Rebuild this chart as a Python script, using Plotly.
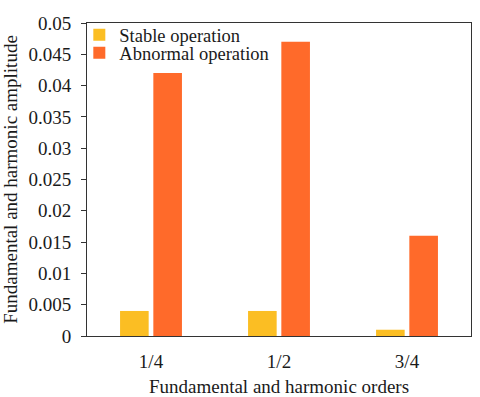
import plotly.graph_objects as go

categories = ["1/4", "1/2", "3/4"]
stable = [0.004, 0.004, 0.001]
abnormal = [0.042, 0.047, 0.016]
yticks = [0, 0.005, 0.01, 0.015, 0.02, 0.025, 0.03, 0.035, 0.04, 0.045, 0.05]
ytick_text = ["0", "0.005", "0.01", "0.015", "0.02", "0.025", "0.03", "0.035", "0.04", "0.045", "0.05"]

font = "Liberation Serif, Times New Roman, serif"
FS = 19
LFS = 18.5

fig = go.Figure()
fig.add_trace(go.Bar(x=categories, y=stable, name="Stable operation",
                     marker=dict(color="#FBBE23", line=dict(width=0)), legend="legend"))
fig.add_trace(go.Bar(x=categories, y=abnormal, name="Abnormal operation",
                     marker=dict(color="#FF6A2A", line=dict(width=0)), legend="legend2"))

leg_common = dict(xanchor="left", yanchor="top", bgcolor="rgba(0,0,0,0)",
                  font=dict(size=LFS, family=font, color="#1a1a1a"), borderwidth=0)

fig.update_layout(
    width=480, height=397,
    margin=dict(l=87, r=9, t=23, b=61, autoexpand=False),
    paper_bgcolor="white", plot_bgcolor="white",
    barmode="group", bargap=0.48, bargroupgap=0.14,
    font=dict(family=font, size=FS, color="#1a1a1a"),
    showlegend=True,
    legend=dict(x=-0.02, y=1.022, **leg_common),
    legend2=dict(x=-0.02, y=0.964, **leg_common),
    xaxis=dict(showline=True, linecolor="#333", linewidth=1, mirror=True,
               ticks="outside", ticklen=8, tickcolor="rgba(0,0,0,0)",
               showgrid=False, automargin=False,
               title=dict(text="Fundamental and harmonic orders", font=dict(size=FS), standoff=9),
               tickfont=dict(size=FS)),
    yaxis=dict(range=[0, 0.05], tickvals=yticks, ticktext=ytick_text,
               showline=True, linecolor="#333", linewidth=1, mirror=True,
               ticks="outside", ticklen=5, tickcolor="#333", showgrid=False, zeroline=False,
               automargin=False, ticklabelstandoff=6,
               title=dict(text="Fundamental and harmonic amplitude", font=dict(size=FS), standoff=6),
               tickfont=dict(size=FS)),
)

fig.write_html("out.html", post_script="document.body.style.margin='0';",
               config={"displayModeBar": False})
